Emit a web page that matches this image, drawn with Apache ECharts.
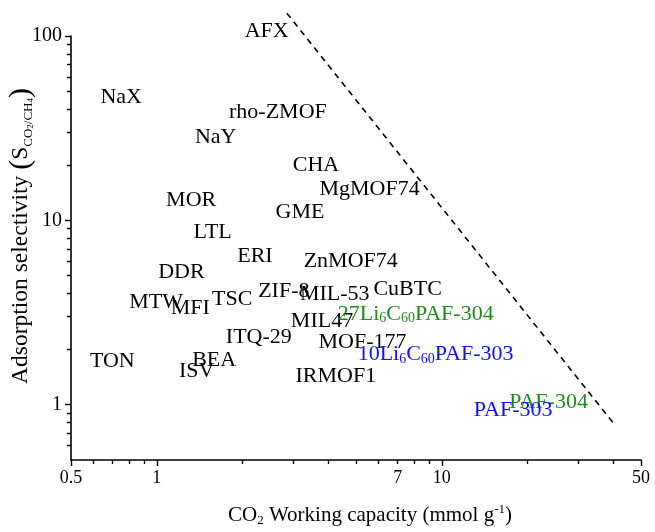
<!DOCTYPE html>
<html>
<head>
<meta charset="utf-8">
<script src="https://cdn.jsdelivr.net/npm/echarts@6/dist/echarts.min.js"></script>
<style>html,body{margin:0;padding:0;background:#fff}#c{width:655px;height:532px}</style>
</head>
<body>
<div id="c"></div>
<script>
// Reference adsorbents (black)
const refNames = ['AFX','NaX','rho-ZMOF','NaY','CHA','MgMOF74','MOR','GME','LTL','ERI','ZnMOF74','DDR','MTW','MFI','TSC','ZIF-8','MIL-53','CuBTC','MIL47','ITQ-29','MOF-177','TON','BEA','ISV','IRMOF1'];
const refCapacity = [2.43,0.75,2.66,1.61,3.62,5.58,1.32,3.18,1.57,2.21,4.79,1.22,0.995,1.31,1.84,2.79,4.21,7.59,3.80,2.28,5.27,0.698,1.59,1.38,4.25];
const refSelectivity = [106,46.3,38.4,28.4,20.0,14.8,12.8,11.1,8.61,6.38,6.0,5.2,3.57,3.35,3.71,4.10,3.98,4.21,2.82,2.31,2.19,1.71,1.75,1.51,1.43];
// PAF-304 family (green)
const paf304Names = ['27Li6C60PAF-304','PAF-304'];
const paf304Capacity = [8.10,23.7];
const paf304Selectivity = [3.11,1.03];
// PAF-303 family (blue)
const paf303Names = ['10Li6C60PAF-303','PAF-303'];
const paf303Capacity = [9.51,17.8];
const paf303Selectivity = [1.88,0.936];
// Upper bound (dashed line)
const boundCapacity = [2.86,40.2];
const boundSelectivity = [133,0.785];
// Axis ticks
const xMajorTicks = [0.5,1,10,50];
const xTickLabels = [0.5,1,7,10,50];
const xMinorTicks = [0.6,0.7,0.8,0.9,2,3,4,5,6,7,8,9,20,30,40];
const yMajorTicks = [1,10,100];
const yTickLabels = [1,10,100];
const yMinorTicks = [0.6,0.7,0.8,0.9,2,3,4,5,6,7,8,9,20,30,40,50,60,70,80,90];

const FONT = 'Liberation Serif';
const INK = '#000';
const GREEN = '#1e8a1e';
const BLUE = '#0f0fff';

function zip(xs, ys, ns) { return xs.map((x, i) => ({ value: [x, ys[i]], name: ns ? ns[i] : '' })); }

function richName(name) {
  return name.replace(/^(\d+)Li6C60(.*)$/, '{t|$1Li}{s|6}{t|C}{s|60}{t|$2}')
             .replace(/^([^{].*)$/, '{t|$1}');
}

function labelCfg(color) {
  return {
    show: true,
    position: [0, 0],
    align: 'center',
    verticalAlign: 'middle',
    color: color,
    opacity: 1,
    textBorderWidth: 0,
    formatter: p => richName(p.name),
    rich: {
      t: { fontFamily: FONT, fontSize: 22, color: color, lineHeight: 24, textBorderWidth: 0 },
      s: { fontFamily: FONT, fontSize: 14, color: color, verticalAlign: 'bottom', lineHeight: 6, textBorderWidth: 0 }
    }
  };
}

const axisLineStyle = { lineStyle: { color: INK, width: 1.6 } };

const gridRect = { left: 71, right: 14, top: 36, bottom: 72, containLabel: false, outerBoundsMode: 'none' };

const option = {
  animation: false,
  backgroundColor: '#fff',
  grid: [Object.assign({}, gridRect), Object.assign({}, gridRect)],
  xAxis: [
    {
      type: 'log', gridIndex: 0, min: 0.5, max: 50, position: 'bottom',
      axisLine: Object.assign({ show: true }, axisLineStyle),
      axisTick: { show: true, length: 6, customValues: xMajorTicks, lineStyle: { color: INK, width: 1.4 } },
      axisLabel: { margin: 9, customValues: xTickLabels, formatter: v => String(+v.toPrecision(6)), fontFamily: FONT, fontSize: 18, color: INK },
      splitLine: { show: false },
      minorTick: { show: false },
      name: '{t|CO}{s|2}{t| Working capacity (mmol g}{u|-1}{t|)}',
      nameLocation: 'middle', nameGap: 43, nameMoveOverlap: false,
      nameTextStyle: {
        padding: [0, 0, 0, 28],
        rich: {
          t: { fontFamily: FONT, fontSize: 21, color: INK, lineHeight: 24 },
          s: { fontFamily: FONT, fontSize: 13, color: INK, verticalAlign: 'bottom', lineHeight: 6 },
          u: { fontFamily: FONT, fontSize: 13, color: INK, verticalAlign: 'top', lineHeight: 10 }
        }
      }
    },
    {
      type: 'log', gridIndex: 1, min: 0.5, max: 50, position: 'bottom',
      axisLine: { show: false },
      axisTick: { show: true, length: 4, customValues: xMinorTicks, lineStyle: { color: INK, width: 1.4 } },
      axisLabel: { show: false },
      splitLine: { show: false }
    }
  ],
  yAxis: [
    {
      type: 'log', gridIndex: 0, min: 0.5, max: 100, position: 'left',
      axisLine: Object.assign({ show: true }, axisLineStyle),
      axisTick: { show: true, length: 6, customValues: yMajorTicks, lineStyle: { color: INK, width: 1.4 } },
      axisLabel: { margin: 9, customValues: yTickLabels, formatter: v => String(+v.toPrecision(6)), fontFamily: FONT, fontSize: 20, color: INK },
      splitLine: { show: false },
      name: '{t|Adsorption selectivity }{p|(}{t|S}{s|CO}{ss|2}{s|/CH}{ss|4}{p|)}',
      nameLocation: 'middle', nameGap: 36, nameRotate: 90, nameMoveOverlap: false,
      nameTextStyle: {
        padding: [0, 0, 0, 24],
        rich: {
          t: { fontFamily: FONT, fontSize: 23.5, color: INK, lineHeight: 28 },
          p: { fontFamily: FONT, fontSize: 30, color: INK, lineHeight: 28 },
          s: { fontFamily: FONT, fontSize: 13, color: INK, verticalAlign: 'bottom', lineHeight: 10 },
          ss: { fontFamily: FONT, fontSize: 9, color: INK, verticalAlign: 'bottom', lineHeight: 4 }
        }
      }
    },
    {
      type: 'log', gridIndex: 1, min: 0.5, max: 100, position: 'left',
      axisLine: { show: false },
      axisTick: { show: true, length: 4, customValues: yMinorTicks, lineStyle: { color: INK, width: 1.4 } },
      axisLabel: { show: false },
      splitLine: { show: false }
    }
  ],
  series: [
    {
      type: 'line', xAxisIndex: 0, yAxisIndex: 0, clip: false,
      data: boundCapacity.map((x, i) => [x, boundSelectivity[i]]),
      symbol: 'none', silent: true,
      lineStyle: { color: INK, width: 1.6, type: [6, 5] }
    },
    {
      type: 'scatter', xAxisIndex: 0, yAxisIndex: 0, symbolSize: 0, clip: false,
      itemStyle: { opacity: 1 },
      data: zip(refCapacity, refSelectivity, refNames),
      label: labelCfg(INK)
    },
    {
      type: 'scatter', xAxisIndex: 0, yAxisIndex: 0, symbolSize: 0, clip: false,
      itemStyle: { opacity: 1 },
      data: zip(paf304Capacity, paf304Selectivity, paf304Names),
      label: labelCfg(GREEN)
    },
    {
      type: 'scatter', xAxisIndex: 0, yAxisIndex: 0, symbolSize: 0, clip: false,
      itemStyle: { opacity: 1 },
      data: zip(paf303Capacity, paf303Selectivity, paf303Names),
      label: labelCfg(BLUE)
    }
  ]
};

const chart = echarts.init(document.getElementById('c'), null, { renderer: 'canvas' });
chart.setOption(option);
</script>
</body>
</html>
